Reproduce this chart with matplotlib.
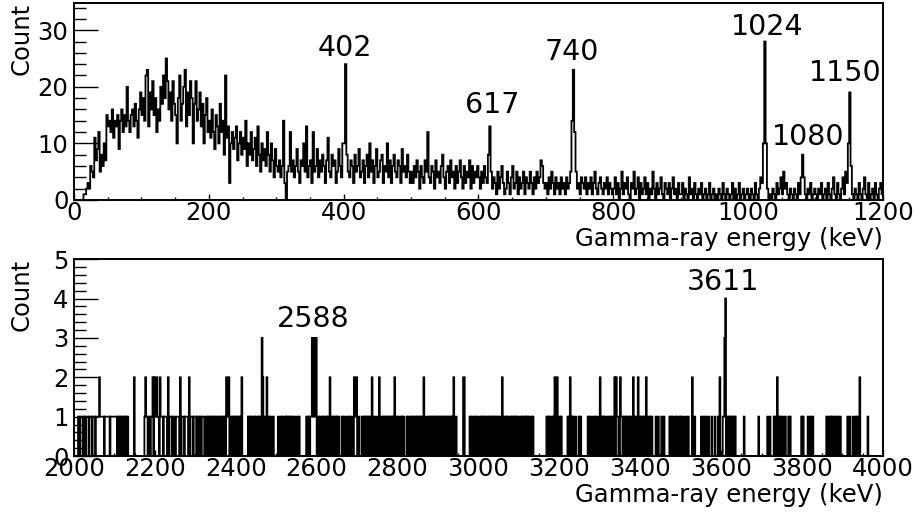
import numpy as np
import matplotlib.pyplot as plt
from matplotlib.ticker import MultipleLocator

# Low-energy spectrum, 2 keV bins from 0 to 1200 keV, one list per 100 keV
low_0 = [0, 0, 0, 0, 0, 0, 0, 1, 1, 2, 3, 2, 6, 5, 4, 11, 7, 9, 12, 5, 8, 6, 10, 7,
         15, 13, 14, 12, 16, 11, 14, 13, 15, 9, 14, 16, 12, 15, 13, 20, 14, 12, 15, 16,
         13, 17, 14, 11, 16, 19]
low_1 = [15, 18, 14, 22, 23, 13, 19, 16, 21, 15, 18, 12, 16, 14, 20, 17, 22, 18, 25, 21,
         16, 19, 14, 21, 17, 15, 10, 18, 22, 14, 17, 20, 23, 13, 19, 15, 21, 18, 10, 17,
         21, 14, 16, 19, 13, 17, 10, 15, 18, 12]
low_2 = [14, 11, 16, 12, 9, 15, 13, 10, 17, 12, 14, 8, 22, 11, 13, 3, 10, 12, 9, 11,
         13, 7, 10, 12, 8, 11, 9, 14, 6, 10, 8, 12, 7, 9, 11, 6, 13, 8, 5, 10,
         7, 9, 6, 12, 8, 5, 10, 7, 4, 9]
low_3 = [6, 5, 7, 4, 6, 14, 3, 0, 5, 6, 12, 5, 7, 4, 6, 9, 5, 3, 7, 6,
         10, 5, 13, 4, 6, 7, 3, 12, 5, 6, 9, 4, 7, 5, 8, 6, 3, 7, 11, 5,
         4, 8, 6, 7, 3, 5, 9, 6, 4, 10]
low_4 = [10, 24, 8, 5, 4, 7, 6, 3, 8, 5, 6, 9, 4, 5, 7, 3, 6, 8, 4, 10,
         5, 7, 3, 6, 9, 4, 5, 7, 8, 3, 6, 5, 10, 4, 7, 3, 6, 8, 5, 4,
         7, 6, 3, 9, 5, 6, 4, 8, 5, 3]
low_5 = [5, 3, 6, 4, 7, 5, 2, 6, 4, 3, 7, 5, 12, 4, 3, 6, 5, 2, 7, 4,
         5, 3, 6, 8, 4, 2, 5, 6, 3, 7, 4, 5, 2, 6, 3, 5, 7, 4, 2, 6,
         3, 5, 4, 7, 2, 6, 3, 5, 4, 6]
low_6 = [4, 2, 5, 3, 6, 4, 3, 8, 13, 5, 2, 4, 3, 1, 5, 2, 4, 6, 3, 1,
         2, 5, 3, 1, 4, 6, 2, 3, 5, 1, 4, 2, 3, 5, 1, 4, 3, 2, 5, 3,
         1, 4, 2, 5, 3, 4, 7, 6, 3, 2]
low_7 = [3, 1, 4, 2, 5, 3, 1, 4, 2, 3, 1, 4, 2, 3, 1, 4, 2, 3, 5, 14,
         23, 12, 5, 2, 3, 1, 4, 3, 2, 4, 1, 3, 2, 4, 1, 3, 5, 2, 1, 3,
         4, 2, 1, 3, 2, 4, 1, 3, 2, 1]
low_8 = [2, 4, 1, 3, 0, 2, 5, 1, 3, 2, 4, 1, 0, 3, 2, 5, 1, 2, 4, 0,
         3, 1, 2, 4, 1, 3, 0, 2, 1, 5, 2, 0, 3, 1, 2, 4, 1, 0, 3, 2,
         1, 3, 0, 2, 4, 1, 2, 0, 3, 1]
low_9 = [1, 3, 0, 2, 1, 0, 4, 1, 2, 0, 3, 1, 0, 2, 1, 3, 0, 1, 2, 0,
         1, 3, 0, 1, 2, 0, 1, 0, 2, 1, 0, 3, 1, 0, 2, 1, 0, 1, 3, 0,
         2, 0, 1, 3, 0, 1, 2, 0, 1, 2]
low_10 = [1, 0, 2, 1, 0, 3, 1, 0, 2, 4, 3, 10, 28, 10, 2, 0, 1, 0, 2, 1,
          0, 3, 1, 2, 4, 1, 5, 2, 3, 1, 0, 2, 1, 0, 2, 1, 0, 3, 1, 4,
          8, 4, 1, 0, 2, 1, 3, 0, 1, 2]
low_11 = [1, 0, 2, 1, 3, 0, 1, 2, 0, 3, 1, 0, 2, 4, 1, 0, 3, 1, 0, 2,
          4, 1, 5, 3, 10, 19, 6, 1, 0, 2, 1, 0, 3, 1, 0, 2, 4, 1, 0, 3,
          0, 1, 2, 0, 3, 1, 0, 2, 3, 1]

# High-energy spectrum, 2 keV bins from 2000 to 4000 keV: energies of non-empty bins
ones = [2010, 2012, 2016, 2018, 2020, 2024, 2026, 2030, 2032, 2034, 2038, 2040, 2042,
        2046, 2048, 2050, 2054, 2056, 2058, 2060, 2064, 2066, 2068, 2070, 2072, 2076,
        2078, 2080, 2082, 2084, 2086, 2090, 2092, 2094, 2096, 2098,
        2100, 2102, 2104, 2108, 2112, 2116, 2120, 2124, 2128, 2132, 2174, 2178, 2180,
        2184, 2186, 2190, 2192, 2200,
        2202, 2206, 2208, 2214, 2216, 2218, 2222, 2224, 2226, 2228, 2236, 2238, 2240,
        2244, 2246, 2252, 2254, 2256, 2258, 2266, 2268, 2270, 2274, 2276, 2278, 2280,
        2288, 2290, 2292, 2296, 2298,
        2300, 2304, 2306, 2310, 2312, 2316, 2318, 2320, 2326, 2328, 2332, 2334, 2338,
        2342, 2346, 2350, 2352, 2356, 2358, 2362, 2364, 2368, 2372, 2378, 2380, 2386,
        2388, 2392, 2396, 2400,
        2404, 2408, 2412, 2430, 2434, 2436, 2440, 2442, 2446, 2450, 2452, 2456, 2460,
        2470, 2472, 2480, 2484, 2490, 2492,
        2504, 2510, 2514, 2520, 2524, 2528, 2532, 2536, 2540, 2546, 2552, 2556, 2574,
        2576, 2580, 2584, 2586, 2592, 2594,
        2604, 2608, 2610, 2614, 2618, 2620, 2624, 2628, 2638, 2642, 2646, 2650, 2654,
        2662, 2666, 2672, 2678, 2682, 2688, 2694, 2696,
        2704, 2712, 2716, 2720, 2724, 2728, 2732, 2740, 2742, 2748, 2760, 2764, 2768,
        2772, 2776, 2780, 2784, 2788, 2796,
        2800, 2806, 2810, 2814, 2822, 2826, 2828, 2832, 2836, 2840, 2844, 2848, 2852,
        2856, 2860, 2870, 2876, 2880, 2884, 2888, 2890, 2894, 2898,
        2902, 2906, 2910, 2914, 2918, 2920, 2924, 2928, 2932, 2936, 2944, 2978, 2982,
        2988, 2992, 2996,
        3002, 3004, 3008, 3012, 3016, 3018, 3022, 3026, 3030, 3034, 3038, 3042, 3046,
        3050, 3056, 3062, 3064, 3068, 3072, 3078, 3082, 3086, 3090, 3094, 3098,
        3104, 3108, 3112, 3116, 3120, 3124, 3130, 3134, 3168, 3172, 3176, 3182, 3186,
        3200, 3204, 3220, 3224, 3230, 3234, 3240, 3248, 3252, 3270, 3274, 3280, 3286,
        3290, 3296,
        3304, 3308, 3312, 3318, 3320, 3324, 3326, 3330, 3332, 3336, 3342, 3344, 3352,
        3354, 3358, 3360, 3364, 3368, 3370, 3374, 3378, 3386, 3390, 3398,
        3402, 3406, 3410, 3420, 3424, 3428, 3438, 3444, 3452, 3458, 3472, 3476, 3480,
        3486, 3490, 3496,
        3500, 3506, 3512, 3518, 3534, 3550, 3556, 3562, 3568, 3576, 3584, 3592,
        3604, 3606, 3614, 3618, 3622, 3626, 3630, 3634, 3656, 3692,
        3714, 3720, 3730, 3734, 3742, 3746, 3752, 3758, 3766, 3770, 3798, 3802,
        3814, 3820, 3826, 3860, 3866, 3870, 3874, 3878, 3884, 3888, 3894, 3912, 3918,
        3926, 3932, 3936, 3942, 3962]
twos = [2062, 2148, 2176, 2194, 2198, 2204, 2212, 2232, 2262, 2284, 2376, 2382, 2414,
        2466, 2476, 2632, 2692, 2698, 2736, 2754, 2792, 2864, 2938, 2962, 2964, 3058,
        3188, 3194, 3226, 3300, 3336, 3340, 3350, 3382, 3394, 3414, 3528, 3596, 3738,
        3942]
threes = [2464, 2588, 2590, 2596, 2598, 3608]
fours = [3610]

low_peaks = ['402', '617', '740', '1024', '1080', '1150']
high_peaks = ['2588', '3611']

# label anchor points (keV, count)
low_label_xy = [(402, 26.8), (620, 16.8), (739, 26.1), (1028, 30.5), (1089, 11.1), (1144, 22.4)]
high_label_xy = [(2591, 3.48), (3604, 4.42)]

low_counts = np.array(low_0 + low_1 + low_2 + low_3 + low_4 + low_5 + low_6 +
                      low_7 + low_8 + low_9 + low_10 + low_11)
low_edges = np.arange(0, 1202, 2)

high_edges = np.arange(2000, 4002, 2)
high_counts = np.zeros(len(high_edges) - 1)
for level, energies in [(1, ones), (2, twos), (3, threes), (4, fours)]:
    for e in energies:
        high_counts[(e - 2000) // 2] = level

plt.rcParams['font.family'] = 'DejaVu Sans'

fig = plt.figure(figsize=(9.15, 5.14), dpi=100)
ax1 = fig.add_axes([0.0809, 0.611, 0.884, 0.383])
ax2 = fig.add_axes([0.0809, 0.1128, 0.884, 0.383])


def style_axis(ax, xlim, ylim, xmajor, xminor, ymajor, yminor):
    ax.set_xlim(*xlim)
    ax.set_ylim(*ylim)
    ax.xaxis.set_major_locator(MultipleLocator(xmajor))
    ax.xaxis.set_minor_locator(MultipleLocator(xminor))
    ax.yaxis.set_major_locator(MultipleLocator(ymajor))
    ax.yaxis.set_minor_locator(MultipleLocator(yminor))
    ax.tick_params(axis='both', which='both', direction='in', top=False, right=False,
                   width=1.0, labelsize=17.5)
    ax.tick_params(axis='y', which='major', length=17, pad=4)
    ax.tick_params(axis='y', which='minor', length=8.5)
    ax.tick_params(axis='x', which='major', length=4.5, pad=1)
    ax.tick_params(axis='x', which='minor', length=2.3)
    for sp in ax.spines.values():
        sp.set_linewidth(1.4)
    ax.set_xlabel('Gamma-ray energy (keV)', fontsize=17.5, loc='right')
    ax.set_ylabel('Count', fontsize=17.5, loc='top')
    ax.xaxis.set_label_coords(1.0, -0.135)
    ax.yaxis.set_label_coords(-0.05, 1.0)


ax1.stairs(low_counts, low_edges, color='black', linewidth=1.3, baseline=0)
style_axis(ax1, (0, 1200), (0, 34.8), 200, 50, 10, 2)
for name, (x, y) in zip(low_peaks, low_label_xy):
    ax1.text(x, y, name, fontsize=20.5, ha='center', va='center')

ax2.stairs(high_counts, high_edges, color='black', linewidth=1.3, baseline=0)
style_axis(ax2, (2000, 4000), (0, 5), 200, 50, 1, 0.2)
for name, (x, y) in zip(high_peaks, high_label_xy):
    ax2.text(x, y, name, fontsize=20.5, ha='center', va='center')

fig.savefig('out.png', dpi=100)
